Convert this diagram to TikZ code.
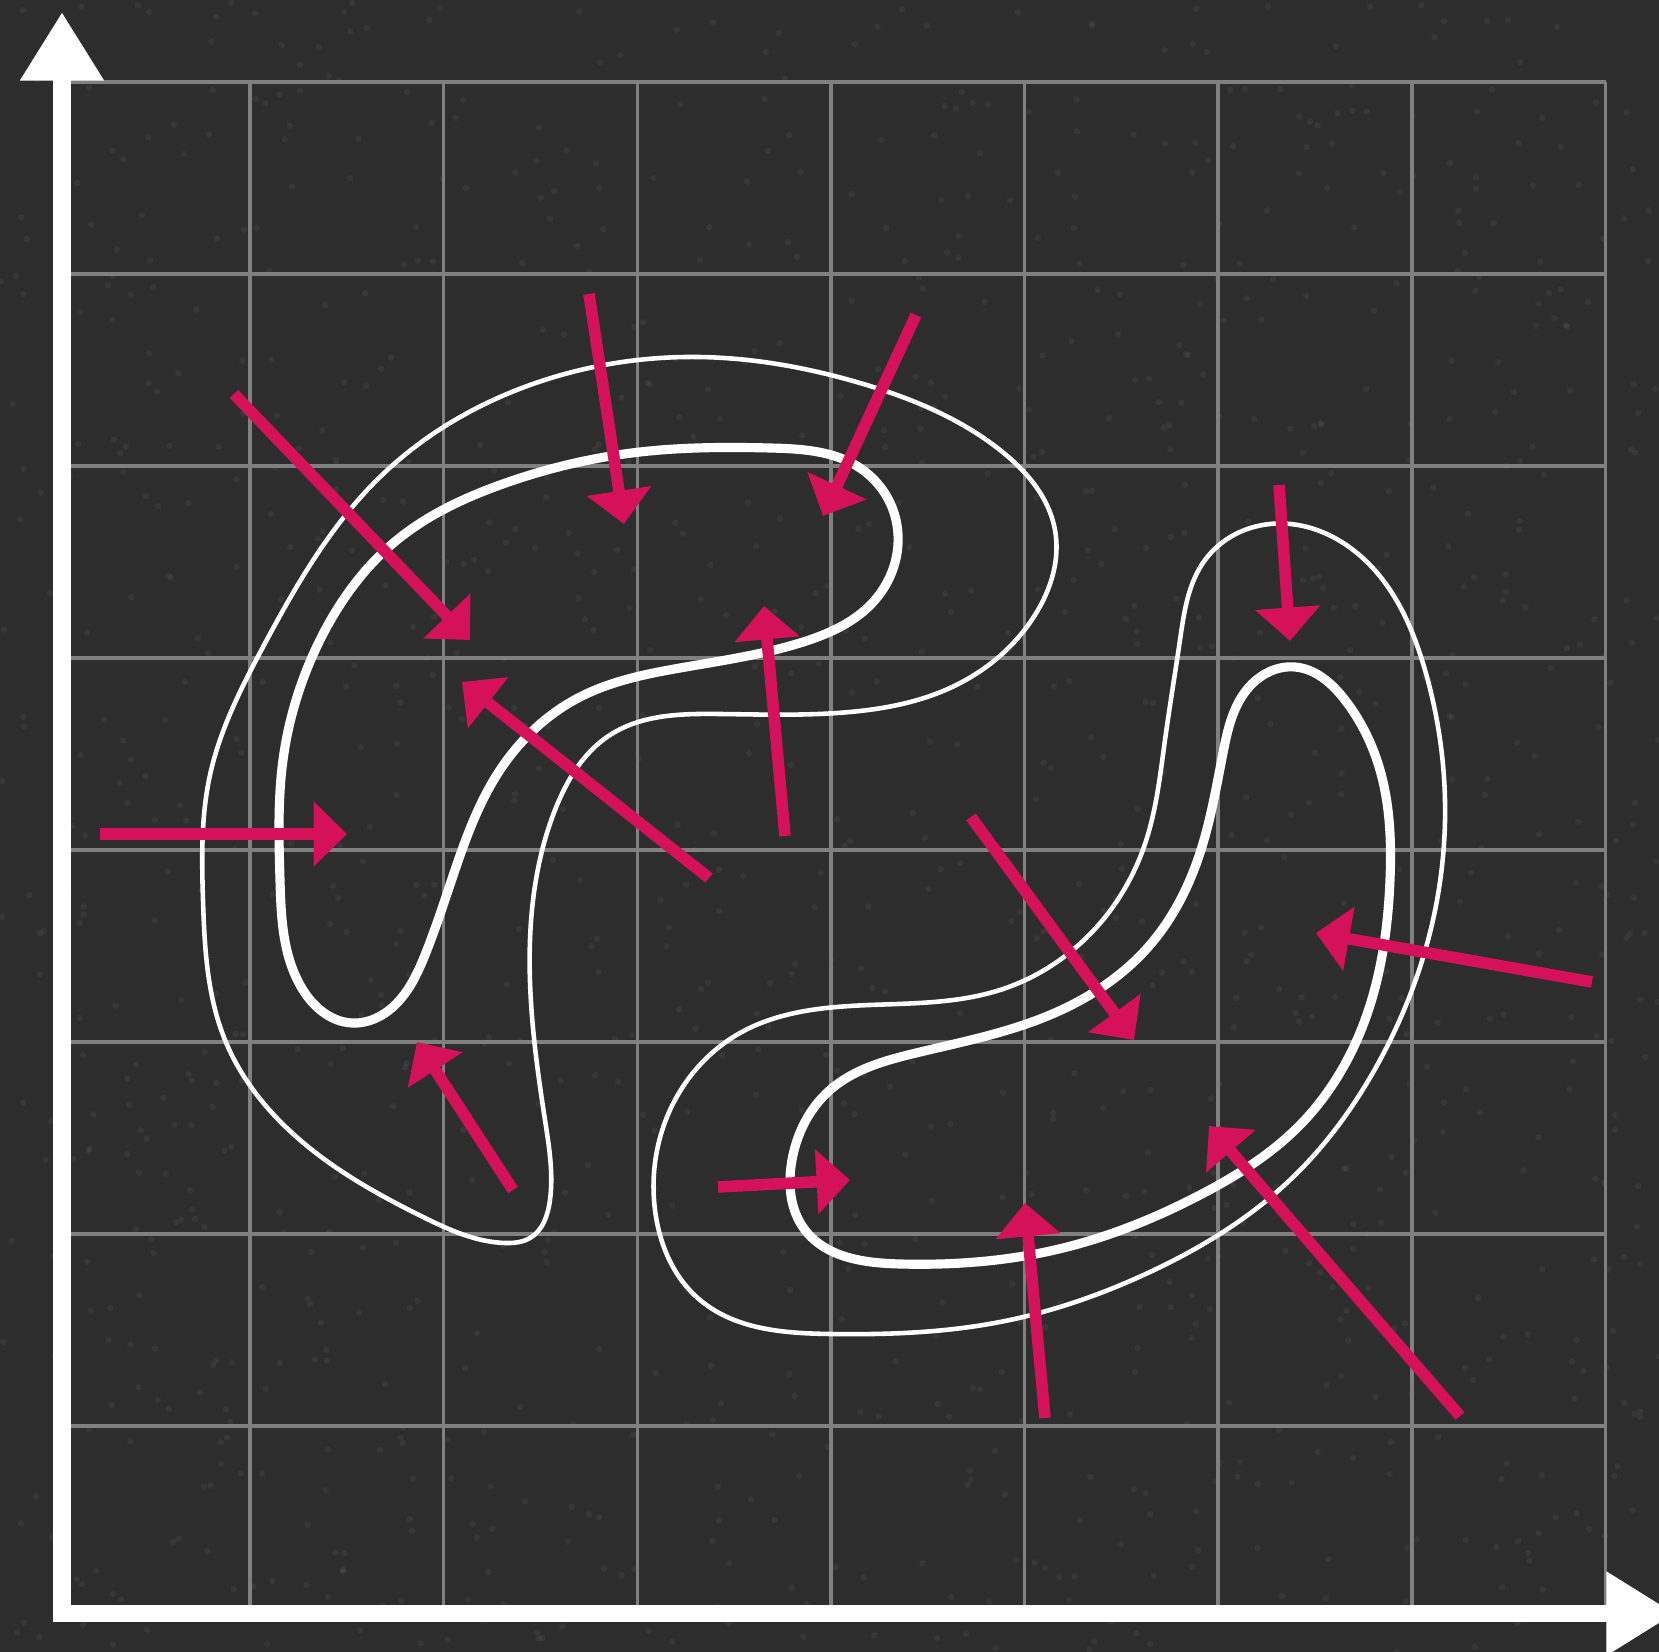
\documentclass[tikz,border=0pt]{standalone}
\usetikzlibrary{arrows.meta,hobby}
\definecolor{board}{RGB}{45,45,45}
\definecolor{chalkgrid}{RGB}{128,128,128}
\definecolor{forcepink}{RGB}{212,17,89}

\begin{document}
\begin{tikzpicture}[
  x=0.01cm, y=-0.01cm,
  gridline/.style={chalkgrid, line width=1pt},
  axisline/.style={white, line width=5.1pt,
    {Triangle[length=19.5pt,width=22.5pt]}-{Triangle[length=19.5pt,width=22.5pt]}},
  outline/.style={white, line width=1.3pt},
  contour/.style={white, line width=2.6pt},
  force/.style={forcepink, line width=3.3pt, -{Triangle[length=9.5pt,width=18pt]}}
]
\useasboundingbox (0,0) rectangle (1659,1652);
\clip (0,0) rectangle (1659,1652);
\fill[board] (0,0) rectangle (1659,1652);
% chalk dust
\pgfmathsetseed{42}
\foreach \k in {1,...,1200}
  \fill[white, opacity=0.05] ({1659*rnd},{1652*rnd}) circle[radius=0.9pt];

% grid
\foreach \i in {0,...,7} {
  \draw[gridline] ({250+193.65*\i},82) -- ({250+193.65*\i},1613);
  \draw[gridline] (62,{82+192*\i}) -- (1606,{82+192*\i});
}

% left blob
\draw[outline] plot[closed hobby] coordinates {
  (505,1243) (423,1217) (300,1140) (225,1040) (203,900) (210,775)
  (263,647) (380,477) (530,385) (698,357) (860,383) (1000,450)
  (1055,530) (1035,615) (950,688) (850,712) (720,714) (610,735)
  (555,810) (530,940) (545,1120) (550,1200) (530,1238)};
\draw[contour] plot[closed hobby] coordinates {
  (352,1023) (300,985) (280,880) (283,760) (320,640) (397,540)
  (500,485) (640,452) (770,448) (860,468) (896,520) (875,600)
  (800,643) (680,668) (580,697) (500,770) (455,870) (425,955)
  (395,1005)};

% right blob
\draw[outline] plot[closed hobby] coordinates {
  (1270,524) (1205,560) (1180,640) (1165,740) (1145,844) (1094,930)
  (1000,990) (870,1005) (740,1033) (667,1117) (655,1210) (700,1300)
  (830,1334) (1000,1322) (1150,1272) (1290,1180) (1380,1060) (1433,920)
  (1445,800) (1425,670) (1370,565)};
\draw[contour] plot[closed hobby] coordinates {
  (1295,667) (1250,686) (1223,753) (1200,853) (1150,945) (1050,1015)
  (916,1053) (830,1090) (792,1160) (805,1230) (900,1264) (1059,1249)
  (1200,1195) (1300,1125) (1365,1020) (1390,880) (1380,770) (1345,700)};

% pushing arrows
\coordinate (t1) at (234,394);   \coordinate (h1) at (470,640);
\coordinate (t2) at (589,294);   \coordinate (h2) at (624,524);
\coordinate (t3) at (916,315);   \coordinate (h3) at (823,516);
\coordinate (t4) at (785,836);   \coordinate (h4) at (764,606);
\coordinate (t5) at (709,878);   \coordinate (h5) at (462,682);
\coordinate (t6) at (100,834);   \coordinate (h6) at (347,834);
\coordinate (t7) at (513,1190);  \coordinate (h7) at (417,1042);
\coordinate (t8) at (971,817);   \coordinate (h8) at (1134,1040);
\coordinate (t9) at (1279,485);  \coordinate (h9) at (1290,641);
\coordinate (t10) at (1592,982); \coordinate (h10) at (1316,933);
\coordinate (t11) at (718,1187); \coordinate (h11) at (850,1180);
\coordinate (t12) at (1045,1418); \coordinate (h12) at (1025,1203);
\coordinate (t13) at (1460,1416); \coordinate (h13) at (1209,1126);
\foreach \i in {1,...,13}
  \draw[force] (t\i) -- (h\i);

% axes
\coordinate (ytop) at (62,12);
\coordinate (xend) at (1675,1613.5);
\draw[axisline] (ytop) |- (xend);
\end{tikzpicture}
\end{document}
